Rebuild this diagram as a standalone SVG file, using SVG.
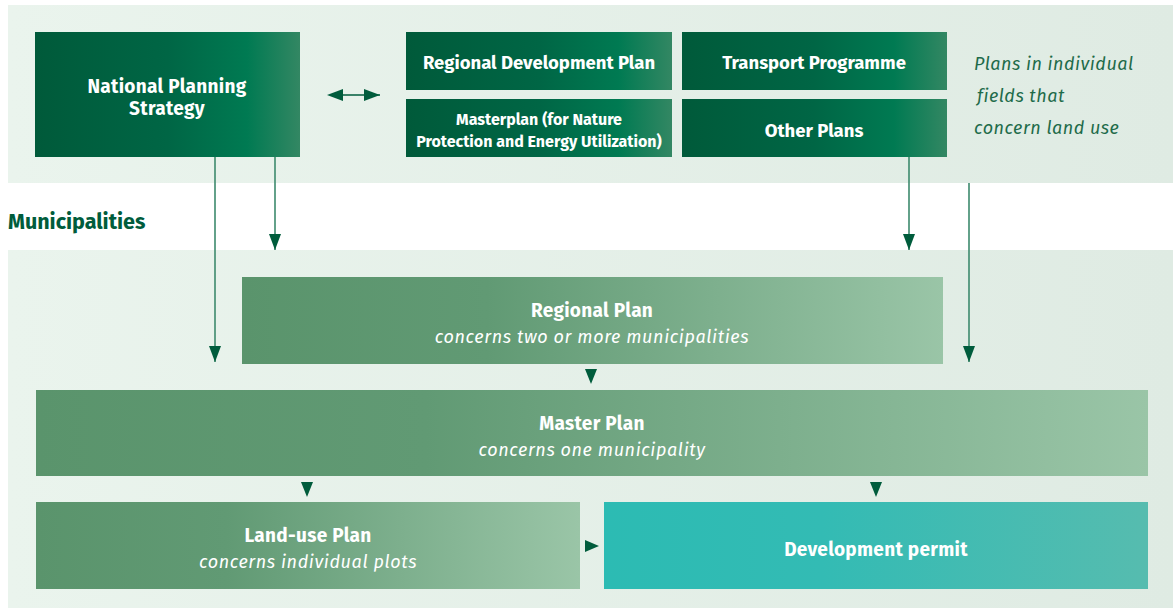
<svg xmlns="http://www.w3.org/2000/svg" width="1173" height="609" viewBox="0 0 1173 609">
<defs>
<linearGradient id="band" x1="0" x2="1" y1="0" y2="0"><stop offset="0" stop-color="#eaf4ed"/><stop offset="1" stop-color="#dfebe3"/></linearGradient>
<linearGradient id="dark" x1="0" x2="1" y1="0" y2="0"><stop offset="0" stop-color="#005a3a"/><stop offset="0.5" stop-color="#006645"/><stop offset="0.8" stop-color="#007a52"/><stop offset="1" stop-color="#338763"/></linearGradient>
<linearGradient id="mid" x1="0" x2="1" y1="0" y2="0"><stop offset="0" stop-color="#5a946c"/><stop offset="0.35" stop-color="#619a74"/><stop offset="1" stop-color="#9ac5a7"/></linearGradient>
<linearGradient id="teal" x1="0" x2="1" y1="0" y2="0"><stop offset="0" stop-color="#2cbbb3"/><stop offset="0.4" stop-color="#33bbb4"/><stop offset="1" stop-color="#56bcaf"/></linearGradient>
<marker id="ah" viewBox="0 0 16 12" refX="16" refY="6" markerWidth="16" markerHeight="12" markerUnits="userSpaceOnUse" orient="auto"><path d="M0,0 L16,6 L0,12 z" fill="#005c3c"/></marker>
<marker id="ahs" viewBox="0 0 16 12" refX="0" refY="6" markerWidth="16" markerHeight="12" markerUnits="userSpaceOnUse" orient="auto-start-reverse"><path d="M0,0 L16,6 L0,12 z" fill="#005c3c"/></marker>
</defs>
<style>
.b{font-family:"Fira Sans","Open Sans","Noto Sans",sans-serif;font-weight:700;fill:#fff;text-anchor:middle}
.i{font-family:"Fira Sans","Open Sans","Noto Sans",sans-serif;font-style:italic;font-weight:400;fill:#fff;text-anchor:middle;font-size:18px;letter-spacing:0.6px}
.note{font-family:"Fira Sans","Open Sans","Noto Sans",sans-serif;font-style:italic;fill:#1e6b4a;font-size:18px;letter-spacing:0.5px}
.ln{stroke:#3d8a6d;stroke-width:1.6;fill:none}
.tri{fill:#005c3c}
</style>
<rect x="8" y="5" width="1165" height="178" fill="url(#band)"/>
<rect x="8" y="250" width="1165" height="358" fill="url(#band)"/>
<text x="8" y="229" font-family="Fira Sans, Open Sans, Noto Sans, sans-serif" font-weight="700" font-size="21.5" fill="#005c3c">Municipalities</text>
<g id="connectors">
<path class="ln" d="M215,157 V362" marker-end="url(#ah)"/>
<path class="ln" d="M275,157 V250" marker-end="url(#ah)"/>
<path class="ln" d="M909,157 V250" marker-end="url(#ah)"/>
<path class="ln" d="M969,183 V362" marker-end="url(#ah)"/>
<path d="M343,95 H380" stroke="#005c3c" stroke-width="1.6" marker-start="url(#ahs)" marker-end="url(#ah)"/>
<polygon class="tri" points="585,369 597,369 591,384"/>
<polygon class="tri" points="301,482 313,482 307,497"/>
<polygon class="tri" points="870,482 882,482 876,497"/>
<polygon class="tri" points="585,540 599,546 585,552"/>
</g>
<g id="nps"><rect x="35" y="32" width="265" height="125" fill="url(#dark)"/><text class="b" font-size="19" letter-spacing="0.3" x="167" y="93">National Planning</text><text class="b" font-size="19" letter-spacing="0.3" x="167" y="115">Strategy</text></g>
<g id="rdp"><rect x="406" y="32" width="266" height="58" fill="url(#dark)"/><text class="b" font-size="18.5" x="539" y="69">Regional Development Plan</text></g>
<g id="masterplan-nature"><rect x="406" y="99" width="266" height="58" fill="url(#dark)"/><text class="b" font-size="16" x="539" y="125">Masterplan (for Nature</text><text class="b" font-size="16" x="539" y="147">Protection and Energy Utilization)</text></g>
<g id="transport"><rect x="682" y="32" width="265" height="58" fill="url(#dark)"/><text class="b" font-size="18.5" x="814" y="69">Transport Programme</text></g>
<g id="other"><rect x="682" y="99" width="265" height="58" fill="url(#dark)"/><text class="b" font-size="18.5" x="814" y="137">Other Plans</text></g>
<g id="note"><text class="note" x="974" y="70">Plans in individual</text><text class="note" x="977" y="102">fields that</text><text class="note" x="974" y="134">concern land use</text></g>
<g id="regional"><rect x="242" y="277" width="701" height="87" fill="url(#mid)"/><text class="b" font-size="19" letter-spacing="0.3" x="592" y="317">Regional Plan</text><text class="i" x="592" y="343">concerns two or more municipalities</text></g>
<g id="master"><rect x="36" y="390" width="1112" height="86" fill="url(#mid)"/><text class="b" font-size="19" letter-spacing="0.3" x="592" y="430">Master Plan</text><text class="i" x="592" y="456">concerns one municipality</text></g>
<g id="landuse"><rect x="36" y="502" width="544" height="87" fill="url(#mid)"/><text class="b" font-size="19" letter-spacing="0.3" x="308" y="542">Land-use Plan</text><text class="i" x="308" y="568">concerns individual plots</text></g>
<g id="permit"><rect x="604" y="502" width="544" height="87" fill="url(#teal)"/><text class="b" font-size="19" letter-spacing="0.3" x="876" y="556">Development permit</text></g>
</svg>
